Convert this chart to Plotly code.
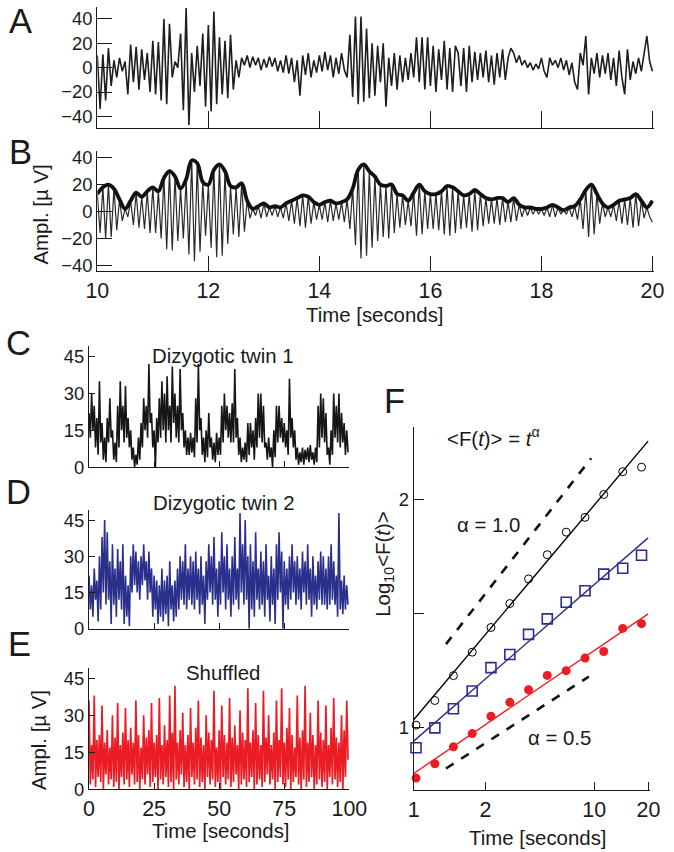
import numpy as np
import plotly.graph_objects as go

# ---------------- data ----------------
# Panel A: raw EEG trace (uV), sampled every 0.05 s from 10 s to 20 s
eeg_raw = [
    10, -34, 11, -27, 16, -15, 6, -8, 8, -3,
    5, -22, 19, -12, 17, -18, 15, -10, 12, -20,
    22, -22, 21, -27, 40, -30, 36, -8, 5, 0,
    28, -35, 49, -47, 12, -20, 18, -15, 28, -32,
    35, -36, 46, -30, 25, -22, 22, -25, 27, -18,
    6, -8, 8, 2, 10, 0, 9, 2, 8, -2,
    7, 0, 9, 1, 8, -3, 6, -4, 10, -5,
    8, -12, 6, -23, 10, -6, 12, -8, 6, -4,
    10, -3, 13, -2, 10, -8, 8, -5, 12, -2,
    -8, 27, -24, 42, -30, 42, -28, 32, -25, 20,
    -23, 18, -12, 20, -32, 8, -15, 12, -18, 10,
    -12, 8, -10, 12, -8, 25, -12, 25, -18, 25,
    -15, 18, -20, 15, -10, 22, -18, 16, -20, 18,
    12, -15, 16, -20, 18, -12, 13, -10, 12, -8,
    14, -12, 10, -14, 12, -8, 15, -10, 8, 16,
    12, 4, 10, 2, 6, 0, 4, -2, 3, -1,
    8, -3, -8, 8, 2, 6, 0, 8, -2, 6,
    -6, 4, -12, -18, 12, 2, 26, -22, 8, -5,
    12, -8, 10, -5, 12, -10, 8, -15, 14, -8,
    -22, 15, -10, 5, -5, 8, -3, 10, 26, 5,
    -3,
]
# Panel B: alpha-filtered trace (uV), every 0.05 s
eeg_alpha = [
    13, -16, 18, -20, 20, -19, 17, -14, 9, -7,
    2, -4, 8, -10, 14, -12, 11, -13, 15, -16,
    18, -16, 15, -20, 25, -28, 30, -29, 26, -22,
    17, -20, 24, -32, 38, -37, 36, -30, 22, -18,
    20, -27, 31, -34, 35, -33, 30, -24, 19, -17,
    18, -19, 21, -15, 8, -5, 2, -3, 4, -5,
    6, -4, 3, -3, 4, -4, 3, -5, 6, -7,
    8, -9, 10, -11, 12, -12, 11, -9, 7, -6,
    5, -6, 7, -8, 8, -7, 6, -6, 7, -8,
    9, -13, 17, -25, 31, -35, 35, -33, 30, -27,
    26, -22, 20, -19, 19, -20, 20, -16, 13, -12,
    12, -10, 8, -11, 14, -18, 20, -17, 15, -13,
    13, -13, 13, -14, 15, -17, 19, -18, 18, -16,
    15, -13, 12, -12, 13, -15, 16, -14, 13, -11,
    10, -9, 9, -9, 10, -10, 10, -8, 7, -8,
    10, -7, 5, -4, 3, -3, 3, -2, 2, -2,
    2, -3, 3, -4, 5, -4, 3, -2, 1, -2,
    3, -4, 4, -6, 9, -13, 16, -19, 20, -17,
    13, -9, 6, -4, 3, -4, 5, -7, 8, -9,
    9, -10, 10, -12, 13, -11, 8, -5, 3, -4,
    -8,
]
# Panel B: amplitude envelope (uV), every 0.1 s
envelope = [
    13, 18, 20, 17, 9, 2, 8, 14, 11, 15,
    18, 15, 25, 30, 26, 17, 24, 38, 36, 22,
    20, 31, 35, 30, 19, 18, 21, 8, 2, 4,
    6, 3, 4, 3, 6, 8, 10, 12, 11, 7,
    5, 7, 8, 6, 7, 9, 17, 31, 35, 30,
    26, 20, 19, 20, 13, 12, 8, 14, 20, 15,
    13, 13, 15, 19, 18, 15, 12, 13, 16, 13,
    10, 9, 10, 10, 7, 10, 5, 3, 3, 2,
    2, 3, 5, 3, 1, 3, 4, 9, 16, 20,
    13, 6, 3, 5, 8, 9, 10, 13, 8, 3,
    8,
]
# Panels C-E: amplitude time courses (uV), every 0.5 s from 0 to 100 s
twin1 = [
    22, 12, 30, 15, 25, 8, 20, 5, 35, 10, 18, 3, 12, 2, 20, 10, 28, 12, 15, 3,
    10, 2, 25, 8, 35, 15, 25, 10, 33, 12, 20, 8, 15, 3, 8, 0, 5, 1, 12, 3,
    18, 8, 28, 15, 25, 12, 42, 18, 22, 8, 15, 0, 20, 10, 28, 12, 35, 15, 30, 10,
    37, 15, 25, 10, 41, 18, 30, 12, 25, 10, 40, 15, 22, 8, 15, 5, 12, 5, 14, 6,
    12, 4, 28, 10, 42, 15, 20, 5, 12, 2, 15, 4, 22, 8, 12, 3, 10, 2, 14, 5,
    12, 5, 25, 10, 30, 15, 25, 12, 22, 10, 26, 10, 40, 12, 20, 5, 12, 2, 8, 3,
    10, 2, 18, 5, 18, 8, 15, 3, 20, 8, 30, 12, 30, 10, 25, 8, 10, 3, 12, 4,
    8, 0, 15, 4, 25, 10, 25, 12, 20, 10, 18, 8, 15, 5, 36, 12, 20, 8, 15, 3,
    8, 1, 6, 2, 8, 1, 7, 3, 8, 2, 9, 3, 6, 1, 8, 2, 25, 8, 30, 12,
    28, 10, 22, 5, 8, 1, 15, 5, 30, 12, 25, 10, 30, 8, 22, 10, 18, 5, 15, 6,
]
twin2 = [
    22, 8, 18, 5, 25, 12, 20, 3, 30, 8, 38, 15, 45, 10, 40, 12, 28, 2, 35, 10,
    25, 5, 33, 12, 28, 8, 35, 2, 22, 5, 18, 1, 30, 15, 35, 18, 32, 15, 28, 12,
    30, 18, 35, 20, 28, 12, 32, 15, 25, 5, 22, 8, 20, 2, 18, 5, 25, 3, 20, 6,
    22, 1, 28, 8, 18, 3, 20, 5, 25, 8, 30, 12, 28, 10, 35, 8, 25, 12, 30, 10,
    28, 8, 32, 12, 25, 6, 30, 10, 22, 2, 28, 12, 35, 15, 30, 10, 38, 12, 25, 5,
    28, 10, 40, 15, 30, 8, 35, 12, 25, 5, 30, 10, 38, 12, 25, 8, 48, 15, 35, 10,
    45, 12, 30, 0, 35, 8, 28, 5, 40, 12, 25, 8, 32, 10, 28, 5, 35, 12, 22, 3,
    30, 10, 25, 2, 35, 12, 40, 15, 32, 0, 28, 10, 25, 8, 30, 12, 35, 15, 28, 10,
    30, 12, 25, 8, 32, 15, 28, 10, 35, 12, 25, 5, 30, 10, 22, 8, 28, 12, 32, 10,
    30, 10, 25, 8, 30, 10, 35, 12, 28, 10, 22, 5, 48, 8, 20, 6, 22, 8, 18, 10,
]
shuffled = [
    36, 2, 18, 4, 38, 1, 20, 5, 22, 3, 34, 0, 19, 6, 24, 2, 17, 4, 30, 1,
    21, 3, 35, 0, 18, 5, 23, 2, 33, 4, 20, 1, 25, 6, 19, 2, 36, 3, 22, 0,
    17, 4, 30, 2, 21, 6, 24, 1, 35, 3, 19, 5, 22, 0, 37, 4, 18, 2, 26, 5,
    20, 1, 38, 3, 23, 0, 42, 4, 19, 2, 24, 6, 31, 1, 18, 3, 22, 0, 33, 5,
    19, 2, 25, 4, 36, 1, 21, 3, 18, 0, 30, 5, 23, 2, 20, 4, 40, 1, 17, 3,
    24, 0, 34, 5, 22, 2, 19, 4, 37, 1, 21, 3, 26, 6, 18, 0, 32, 2, 23, 4,
    20, 1, 41, 3, 19, 5, 24, 0, 35, 2, 22, 4, 18, 1, 40, 3, 21, 6, 30, 2,
    18, 4, 23, 0, 36, 3, 20, 5, 41, 2, 19, 1, 25, 4, 33, 0, 22, 3, 17, 5,
    38, 2, 21, 0, 24, 4, 42, 1, 19, 3, 31, 5, 22, 0, 18, 2, 36, 4, 23, 1,
    20, 3, 34, 0, 18, 5, 25, 2, 37, 4, 21, 1, 19, 3, 30, 0, 24, 5, 36, 12,
]
# Panel F: DFA fluctuation function
f_time = [1.03, 1.31, 1.66, 2.11, 2.68, 3.41, 4.33, 5.5, 7.0, 8.9, 11.3, 14.4, 18.3]
f_twin1 = [1.012, 1.12, 1.229, 1.332, 1.44, 1.545, 1.653, 1.759, 1.858, 1.923, 2.023, 2.123, 2.143]
f_twin2 = [0.913, 1.0, 1.084, 1.162, 1.264, 1.322, 1.41, 1.478, 1.551, 1.601, 1.674, 1.7, 1.757]
f_shuf = [0.78, 0.843, 0.917, 0.975, 1.051, 1.112, 1.167, 1.23, 1.251, 1.306, 1.335, 1.436, 1.457]
fit_t = [1.0, 19.9]
fit_twin1 = [1.036, 2.257]
fit_twin2 = [0.942, 1.833]
fit_shuf = [0.80, 1.50]
ref10_t = [1.51, 9.63]
ref10_y = [1.367, 2.182]
ref05_t = [1.51, 9.35]
ref05_y = [0.822, 1.225]

tA = 10 + 0.05 * np.arange(len(eeg_raw))
tB = 10 + 0.05 * np.arange(len(eeg_alpha))
tEnv = 10 + 0.1 * np.arange(len(envelope))
tC = 0.5 * np.arange(len(twin1))

# ---------------- layout helpers ----------------
W, H = 674, 852
FONT = "Liberation Sans, Arial, sans-serif"
INK = "#1a1a1a"
BLUE = "#2b2f8c"
RED = "#ec1c24"
S = 1 / 0.98          # the page is photographed slightly scaled; compensate
YT = 18.4             # y tick label size
XT = 21.4             # x tick label size
LAB = 20.4            # titles


def X(x):  # screen px -> layout px
    return (x - 6) / 0.98


def Y(y):
    return (y + 1) / 0.993


def dx(x0, x1):
    return [X(x0) / W, X(x1) / W]


def dy(top, bottom):
    return [1 - Y(bottom) / H, 1 - Y(top) / H]


def ax(size=YT, **kw):
    base = dict(showline=True, linecolor=INK, linewidth=1.2, showgrid=False,
                zeroline=False, ticks="inside", tickcolor=INK, tickwidth=1.2,
                tickfont=dict(family=FONT, size=size, color=INK), mirror=False)
    base.update(kw)
    return base


fig = go.Figure()
# A
fig.add_trace(go.Scatter(x=tA, y=eeg_raw, mode="lines", line=dict(color="#1e1e1e", width=1.6),
                         xaxis="x", yaxis="y", showlegend=False))
# B
fig.add_trace(go.Scatter(x=tB, y=eeg_alpha, mode="lines", line=dict(color="#2a2a2a", width=1.2),
                         xaxis="x2", yaxis="y2", showlegend=False))
fig.add_trace(go.Scatter(x=tEnv, y=envelope, mode="lines", line=dict(color="#111", width=3.8, shape="spline"),
                         xaxis="x2", yaxis="y2", showlegend=False))
# C, D, E
fig.add_trace(go.Scatter(x=tC, y=twin1, mode="lines", line=dict(color="#161616", width=1.6),
                         xaxis="x3", yaxis="y3", showlegend=False))
fig.add_trace(go.Scatter(x=tC, y=twin2, mode="lines", line=dict(color=BLUE, width=1.6),
                         xaxis="x4", yaxis="y4", showlegend=False))
fig.add_trace(go.Scatter(x=tC, y=shuffled, mode="lines", line=dict(color=RED, width=1.7),
                         xaxis="x5", yaxis="y5", showlegend=False))
# F
for yy, col in [(fit_twin1, "black"), (fit_twin2, BLUE), (fit_shuf, RED)]:
    fig.add_trace(go.Scatter(x=fit_t, y=yy, mode="lines", line=dict(color=col, width=1.4),
                             xaxis="x6", yaxis="y6", showlegend=False))
fig.add_trace(go.Scatter(x=ref10_t, y=ref10_y, mode="lines", line=dict(color="#111", width=2.6, dash="dash"),
                         xaxis="x6", yaxis="y6", showlegend=False))
fig.add_trace(go.Scatter(x=ref05_t, y=ref05_y, mode="lines", line=dict(color="#111", width=2.6, dash="dash"),
                         xaxis="x6", yaxis="y6", showlegend=False))
fig.add_trace(go.Scatter(x=f_time, y=f_twin1, mode="markers",
                         marker=dict(symbol="circle-open", size=8, color="black", line=dict(width=1)),
                         xaxis="x6", yaxis="y6", showlegend=False, cliponaxis=False))
fig.add_trace(go.Scatter(x=f_time, y=f_twin2, mode="markers",
                         marker=dict(symbol="square-open", size=10, color=BLUE, line=dict(width=1.6)),
                         xaxis="x6", yaxis="y6", showlegend=False, cliponaxis=False))
fig.add_trace(go.Scatter(x=f_time, y=f_shuf, mode="markers",
                         marker=dict(symbol="circle", size=9, color=RED),
                         xaxis="x6", yaxis="y6", showlegend=False, cliponaxis=False))

yt40 = [-40, -20, 0, 20, 40]
yt45 = [0, 15, 30, 45]
t5 = [0, 25, 50, 75, 100]
t10 = [10, 12, 14, 16, 18, 20]
layout = dict(
    width=W, height=H, autosize=False, margin=dict(l=0, r=0, t=0, b=0),
    paper_bgcolor="white", plot_bgcolor="white", showlegend=False,
    font=dict(family=FONT, color=INK),
    xaxis=ax(domain=dx(93.5, 664), anchor="y", range=[10, 20.02], tickvals=t10,
             ticklen=17, showticklabels=False),
    yaxis=ax(domain=dy(3, 125), anchor="x", range=[-49.5, 49.8], tickvals=yt40, ticklen=15),
    xaxis2=ax(size=XT, domain=dx(93.5, 664), anchor="y2", range=[10, 20.02], tickvals=t10,
              ticklen=15),
    yaxis2=ax(domain=dy(148, 269), anchor="x2", range=[-44.1, 45.2], tickvals=yt40, ticklen=15),
    xaxis3=ax(domain=dx(85, 352), anchor="y3", range=[0, 100], tickvals=t5,
              ticklen=6, showticklabels=False),
    yaxis3=ax(domain=dy(345, 467), anchor="x3", range=[0, 49.3], tickvals=yt45, ticklen=6),
    xaxis4=ax(domain=dx(85, 352), anchor="y4", range=[0, 100], tickvals=t5,
              ticklen=6, showticklabels=False),
    yaxis4=ax(domain=dy(510, 630), anchor="x4", range=[0, 49.3], tickvals=yt45, ticklen=6),
    xaxis5=ax(size=XT, domain=dx(85, 352), anchor="y5", range=[0, 100], tickvals=t5,
              ticklen=6),
    yaxis5=ax(domain=dy(670, 792), anchor="x5", range=[0, 49.0], tickvals=yt45, ticklen=6),
    xaxis6=ax(size=XT, domain=dx(418, 660), anchor="y6", type="log", range=[0, np.log10(20.3)],
              tickvals=[1, 2.5, 10, 20], ticktext=["1", "2", "10", "20"], ticklen=8),
    yaxis6=ax(domain=dy(427, 793), anchor="x6", range=[0.726, 2.317], tickvals=[1, 1.5, 2],
              ticktext=["1", "", "2"], ticklen=10),
)
fig.update_layout(**layout)


def note(text, x, y, size=LAB, angle=0, **kw):
    fig.add_annotation(text=text, x=X(x) / W, y=1 - Y(y) / H, xref="paper", yref="paper",
                       showarrow=False, xanchor="center", yanchor="middle", textangle=angle,
                       font=dict(family=FONT, size=size, color=INK), **kw)


for letter, x, y in [("A", 15, 17), ("B", 15, 149), ("C", 13, 342), ("D", 13, 492),
                     ("E", 14, 645), ("F", 398, 400)]:
    note(letter, x, y, size=34.5)

note("Ampl. [µ V]", 36, 212, angle=-90)
note("Time [seconds]", 378, 314)
note("Dizygotic twin 1", 222, 355)
note("Dizygotic twin 2", 223, 503)
note("Shuffled", 222, 675)
note("Ampl. [µ V]", 34, 742, angle=-90)
note("Time [seconds]", 220, 834)
note("Time [seconds]", 545, 841)
note("Log<sub>10</sub>&lt;F(<i>t</i>)&gt;", 388, 565, angle=-90)
note("&lt;F(<i>t</i>)&gt; = <i>t</i><sup>α</sup>", 500, 437)
note("α = 1.0", 495, 525)
note("α = 0.5", 568, 740)

css = ("document.documentElement.style.margin='0';document.documentElement.style.overflow='hidden';"
       "document.body.style.margin='0';document.body.style.overflow='hidden';")
fig.write_html("out.html", post_script=css, config={"displayModeBar": False})
